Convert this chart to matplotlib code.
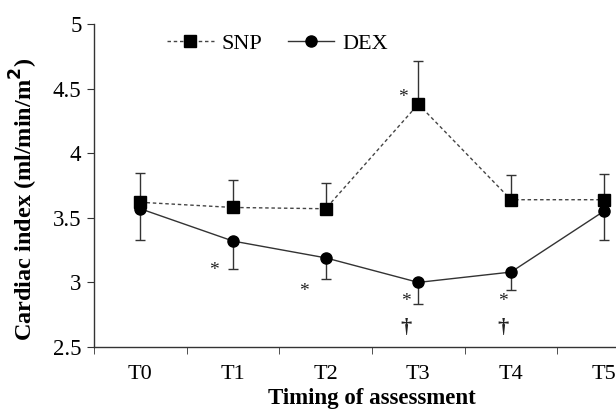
import matplotlib
matplotlib.use("Agg")
import matplotlib.pyplot as plt
import numpy as np

categories = ["T0", "T1", "T2", "T3", "T4", "T5"]
snp = [3.62, 3.58, 3.57, 4.38, 3.64, 3.64]
snp_err_up = [0.23, 0.21, 0.20, 0.33, 0.19, 0.20]
dex = [3.57, 3.32, 3.19, 3.00, 3.08, 3.55]
dex_err_down = [0.24, 0.22, 0.16, 0.17, 0.14, 0.22]

# annotation markers: (x index, y value, text)
stars_dex = [(0.79, 3.09, "*"), (1.77, 2.93, "*"), (2.87, 2.85, "*"), (3.91, 2.85, "*")]
daggers_dex = [(2.87, 2.65, "\u2020"), (3.91, 2.65, "\u2020")]
stars_snp = [(2.83, 4.43, "*")]

plt.rcParams["font.family"] = ["Liberation Serif", "DejaVu Serif"]

fig = plt.figure(figsize=(6.16, 4.11), dpi=100)
ax = fig.add_axes([94/616, 64/411, 556/616, 323/411])

x = np.arange(len(categories))
ax.errorbar(x, snp, yerr=[np.zeros(len(snp)), snp_err_up], fmt="none",
            ecolor="#333333", elinewidth=1.0, capsize=3.6, capthick=1.0, zorder=2)
ax.errorbar(x, dex, yerr=[dex_err_down, np.zeros(len(dex))], fmt="none",
            ecolor="#333333", elinewidth=1.0, capsize=3.6, capthick=1.0, zorder=2)
ax.plot(x, snp, linestyle=(0, (2.5, 2)), color="#444444", linewidth=1.0,
        marker="s", markersize=8, markerfacecolor="black", markeredgecolor="black",
        label="SNP", zorder=3)
ax.plot(x, dex, linestyle="-", color="#333333", linewidth=1.0,
        marker="o", markersize=8, markerfacecolor="black", markeredgecolor="black",
        label="DEX", zorder=3)

for xs, ys, t in stars_dex + stars_snp:
    ax.text(xs, ys, t, ha="center", va="center", fontsize=14, color="#222222")
for xs, ys, t in daggers_dex:
    ax.text(xs, ys, t, ha="center", va="center", fontsize=16, fontweight="bold",
            color="#222222")

ax.set_xlim(-0.5, 5.5)
ax.set_ylim(2.5, 5)
ax.set_yticks([2.5, 3, 3.5, 4, 4.5, 5])
ax.set_yticklabels(["2.5", "3", "3.5", "4", "4.5", "5"])
ax.set_xticks(x)
ax.set_xticklabels(categories)
ax.set_xticks(np.arange(-0.5, 6.0, 1.0), minor=True)
ax.tick_params(axis="x", which="major", length=0, labelsize=16, pad=13)
ax.tick_params(axis="x", which="minor", length=5, direction="out", color="#333333")
ax.tick_params(axis="y", length=5, direction="out", labelsize=16.5, color="#333333", pad=4)

for s in ["top", "right"]:
    ax.spines[s].set_visible(False)
for s in ["left", "bottom"]:
    ax.spines[s].set_color("#333333")
    ax.spines[s].set_linewidth(1.0)

ax.set_xlabel("Timing of assessment", fontsize=16.5, fontweight="bold", labelpad=3)
ax.set_ylabel("Cardiac index (ml/min/m$^\\mathbf{2}$)", fontsize=17.5, fontweight="bold")
ax.yaxis.set_label_coords(-0.097, 0.458)

ax.legend(loc="center left", bbox_to_anchor=(0.131, 1 - 20/323), ncol=2, frameon=False,
          fontsize=16, handlelength=2.1, columnspacing=1.15, handletextpad=0.35,
          borderaxespad=0, borderpad=0)

fig.savefig("out.png", dpi=100)
